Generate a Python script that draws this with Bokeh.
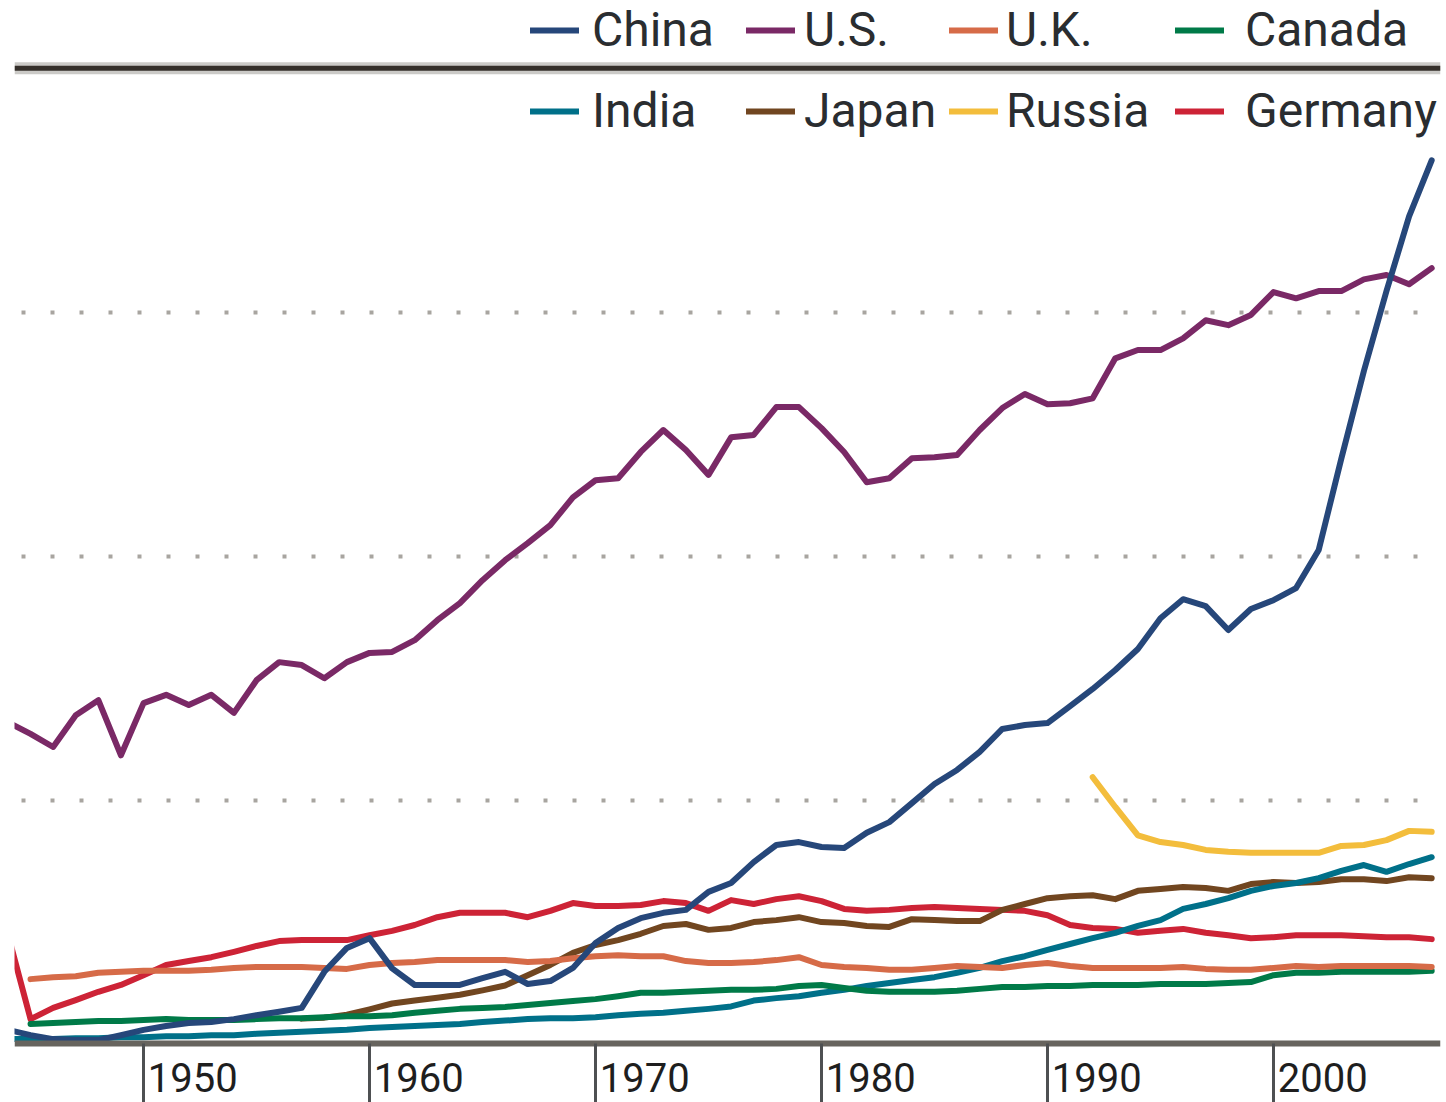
from bokeh.plotting import figure
from bokeh.models import Range1d, Legend, LegendItem, Span, FixedTicker, LinearAxis
from bokeh.embed import file_html
from bokeh.resources import INLINE

# ---- data (million metric tons of carbon) ----
years_full = list(range(1944, 2008))
years_uk = list(range(1945, 2008))
years_canada = list(range(1945, 2008))
years_japan = list(range(1957, 2008))
years_russia = list(range(1992, 2008))

china = [29, 18, 10, 8, 8, 18, 29, 37, 43, 45, 51, 59, 66, 74,
         148, 197, 217, 155, 121, 121, 121, 135, 148, 123, 129, 156,
         207, 238, 258, 269, 275, 312, 330, 373, 408, 414,
         404, 402, 433, 455, 494, 533, 562, 599, 646, 654,
         658, 693, 728, 767, 810, 873, 912, 898, 849, 892,
         910, 935, 1013, 1200, 1380, 1544, 1697, 1812]
us = [660, 636, 609, 674, 705, 592, 699, 716, 695, 716,
      679, 746, 783, 777, 750, 783, 802, 804, 828, 869,
      904, 951, 992, 1027, 1064, 1121, 1156, 1160, 1214, 1259,
      1218, 1167, 1244, 1249, 1306, 1306, 1263, 1214, 1152, 1160,
      1201, 1203, 1208, 1259, 1304, 1333, 1312, 1314, 1324, 1406,
      1423, 1423, 1447, 1484, 1474, 1495, 1542, 1529, 1544, 1544,
      1568, 1577, 1558, 1591]
uk = [133, 137, 139, 146, 148, 150, 150, 150, 152, 156,
      158, 158, 158, 156, 154, 162, 166, 168, 172, 172,
      172, 172, 168, 170, 176, 180, 182, 180, 180, 170,
      166, 166, 168, 172, 178, 162, 158, 156, 152, 152,
      156, 160, 158, 156, 162, 166, 160, 156, 156, 156,
      156, 158, 154, 152, 152, 156, 160, 158, 160, 160,
      160, 160, 158]
canada = [41, 43, 45, 47, 47, 49, 51, 49, 49, 49,
          51, 53, 53, 55, 57, 57, 59, 64, 68, 72,
          74, 76, 80, 84, 88, 92, 98, 105, 105, 107,
          109, 111, 111, 113, 119, 121, 115, 109, 107, 107,
          107, 109, 113, 117, 117, 119, 119, 121, 121, 121,
          123, 123, 123, 125, 127, 141, 146, 146, 148, 148,
          148, 148, 150]
india = [10, 10, 10, 12, 12, 14, 14, 16, 16, 18,
         18, 21, 23, 25, 27, 29, 33, 35, 37, 39,
         41, 45, 48, 51, 53, 53, 55, 59, 62, 64,
         68, 72, 77, 89, 94, 98, 105, 111, 119, 125,
         131, 137, 146, 156, 170, 180, 193, 205, 217, 228,
         242, 254, 277, 287, 299, 314, 324, 330, 340, 355,
         367, 353, 369, 383]
japan = [52, 54, 60, 71, 83, 89, 95, 101, 110, 120,
         141, 162, 187, 203, 213, 226, 242, 246, 234, 238,
         250, 254, 260, 250, 248, 242, 240, 256, 254, 252,
         252, 275, 287, 299, 303, 305, 297, 314, 318, 322,
         320, 314, 328, 332, 330, 332, 338, 338, 334, 342,
         340]
russia = [547, 486, 428, 414, 408, 398, 394, 392, 392, 392,
          392, 406, 408, 418, 437, 435]
germany = [225, 51, 74, 90, 107, 121, 141, 162, 170, 178,
           189, 201, 211, 213, 213, 213, 223, 232, 244, 260,
           269, 269, 269, 260, 273, 289, 283, 283, 285, 293,
           289, 273, 295, 287, 297, 303, 293, 277, 273, 275,
           279, 281, 279, 277, 275, 273, 264, 244, 238, 236,
           228, 232, 236, 228, 223, 217, 219, 223, 223, 223,
           221, 219, 219, 215]

tick_years = [1950, 1960, 1970, 1980, 1990, 2000]
grid_levels = [500, 1000, 1500]

names = ["China", "U.S.", "U.K.", "Canada", "India", "Japan", "Russia", "Germany"]
colors = {"China": "#26477a", "U.S.": "#7a2966", "U.K.": "#d66b48", "Canada": "#007a48",
          "India": "#007089", "Japan": "#714620", "Russia": "#f3bd3c", "Germany": "#cd2336"}
series = {"China": (years_full, china), "U.S.": (years_full, us), "U.K.": (years_uk, uk),
          "Canada": (years_canada, canada), "India": (years_full, india),
          "Japan": (years_japan, japan), "Russia": (years_russia, russia),
          "Germany": (years_full, germany)}

p = figure(width=1446, height=1102, title=None,
           x_range=Range1d(1944.29, 2007.39), y_range=Range1d(-120.0, 2139.8),
           output_backend="svg", toolbar_location=None,
           min_border_left=14, min_border_right=6, min_border_top=0, min_border_bottom=0)
p.outline_line_color = None
p.background_fill_color = "white"
p.border_fill_color = "white"

# grid
p.xgrid.visible = False
p.ygrid.ticker = FixedTicker(ticks=grid_levels)
p.ygrid.grid_line_color = "#a8a5a0"
p.ygrid.grid_line_width = 4
p.ygrid.grid_line_dash = "4 25"
p.ygrid.grid_line_dash_offset = 22
p.yaxis.visible = False

# x axis (line + ticks) drawn at y = 0; its own labels left empty
xa = p.xaxis[0]
xa.fixed_location = 0
xa.ticker = FixedTicker(ticks=tick_years)
xa.major_label_overrides = {y: "" for y in tick_years}
xa.axis_line_color = "#67645e"
xa.axis_line_width = 6
xa.major_tick_in = 0
xa.major_tick_out = 59
xa.major_tick_line_color = "#4e5052"
xa.major_tick_line_width = 3
xa.minor_tick_line_color = None

# second axis carrying the year labels, set just right of each tick
LABEL_SHIFT = 2.18
label_pos = [y + LABEL_SHIFT for y in tick_years]
la = LinearAxis(fixed_location=0, ticker=FixedTicker(ticks=label_pos),
                major_label_overrides={pos: str(y) for pos, y in zip(label_pos, tick_years)},
                axis_line_color=None, major_tick_line_color=None, minor_tick_line_color=None,
                major_tick_in=0, major_tick_out=0, major_label_standoff=19,
                major_label_text_font="Roboto", major_label_text_font_size="40px",
                major_label_text_color="#1e1e1e")
p.add_layout(la, "below")

# lines (legend order reversed so China sits on top)
renderers = {}
for name in reversed(names):
    xs, ys = series[name]
    renderers[name] = p.line(xs, ys, line_color=colors[name], line_width=6,
                             line_join="round", line_cap="round")

# legend rule between rows
RULE_Y = 2001
p.add_layout(Span(location=RULE_Y, dimension="width", line_color="#cbcac7", line_width=12))
p.add_layout(Span(location=RULE_Y, dimension="width", line_color="#342f2a", line_width=5))

columns = [(("China", "India"), 516, 13), (("U.S.", "Japan"), 732, 9),
           (("U.K.", "Russia"), 935, 8), (("Canada", "Germany"), 1161, 21)]
for (a, b), vx, standoff in columns:
    leg = Legend(items=[LegendItem(label=a, renderers=[renderers[a]]),
                        LegendItem(label=b, renderers=[renderers[b]])],
                 location=(vx, 963), orientation="vertical",
                 padding=0, margin=0, spacing=24,
                 glyph_width=49, glyph_height=56, label_height=56,
                 label_standoff=standoff,
                 label_text_font="Roboto", label_text_font_size="48px",
                 label_text_color="#2a2d30",
                 border_line_color=None, background_fill_alpha=0)
    p.add_layout(leg)

open("out.html", "w").write(file_html(p, INLINE))
